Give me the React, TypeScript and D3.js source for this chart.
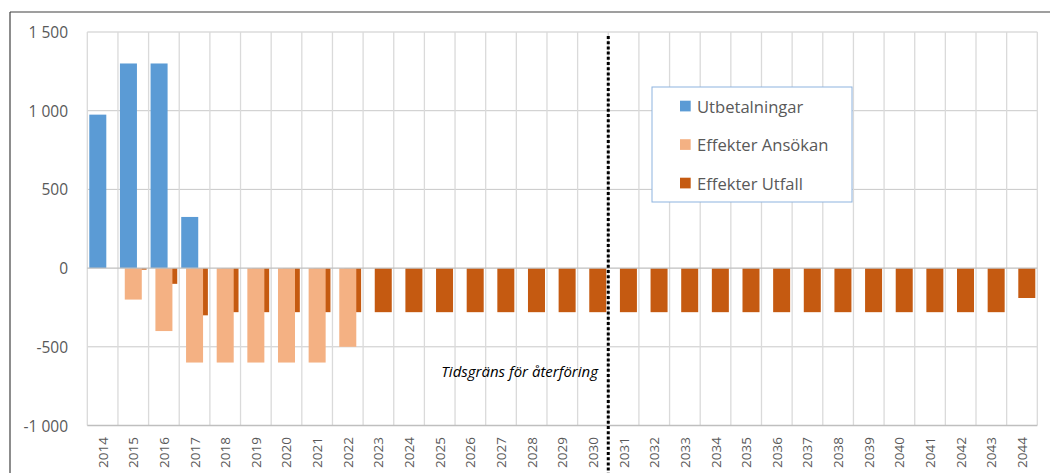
import React from 'react'
import * as d3 from 'd3'

const years = ['2014', '2015', '2016', '2017', '2018', '2019', '2020', '2021', '2022', '2023',
  '2024', '2025', '2026', '2027', '2028', '2029', '2030', '2031', '2032', '2033', '2034',
  '2035', '2036', '2037', '2038', '2039', '2040', '2041', '2042', '2043', '2044']

const utbetalningar = [975, 1300, 1300, 325, 0, 0, 0, 0, 0, 0,
  0, 0, 0, 0, 0, 0, 0, 0, 0, 0, 0,
  0, 0, 0, 0, 0, 0, 0, 0, 0, 0]

const effekterAnsokan = [0, -200, -400, -600, -600, -600, -600, -600, -500, 0,
  0, 0, 0, 0, 0, 0, 0, 0, 0, 0, 0,
  0, 0, 0, 0, 0, 0, 0, 0, 0, 0]

const effekterUtfall = [0, -10, -100, -300, -280, -280, -280, -280, -280, -280,
  -280, -280, -280, -280, -280, -280, -280, -280, -280, -280, -280,
  -280, -280, -280, -280, -280, -280, -280, -280, -280, -190]

const seriesNames = ['Utbetalningar', 'Effekter Ansökan', 'Effekter Utfall']
const seriesColors = ['#5B9BD5', '#F4B183', '#C55A11']

const yTicks = [-1000, -500, 0, 500, 1000, 1500]
const boundaryYear = '2031'
const annotation = 'Tidsgräns för återföring'

const W = 1050
const H = 473
const font = '"Open Sans", "Noto Sans", sans-serif'

export default function App() {
  const left = 87.3, right = 1037.3, top = 32, bottom = 425.5

  const x = d3.scaleBand().domain(years).range([left, right]).padding(0)
  const y = d3.scaleLinear().domain([-1000, 1500]).range([bottom, top])
  const bw = x.bandwidth()
  const barW = bw * 0.555
  // overlapping clustered bars, each series shifted a bit to the right
  const sub = d3.scalePoint().domain(seriesNames).range([bw * 0.065, bw * 0.38])

  const fmt = (v: number) => d3.format(',')(v).replace(/,/g, ' ').replace('−', '-')

  const series = [utbetalningar, effekterAnsokan, effekterUtfall]
  const drawOrder = [2, 1, 0]

  const xLine = x(boundaryYear) as number

  return (
    <svg width={W} height={H} style={{ position: 'absolute', left: 0, top: 0, background: '#fff' }}>
      <rect x={0} y={0} width={W} height={H} fill="#fff" />
      {/* frame */}
      <line x1={10} x2={W} y1={12} y2={12} stroke="#404040" strokeWidth={1.2} />
      <line x1={10} x2={10} y1={12} y2={H} stroke="#404040" strokeWidth={1.2} />

      {/* gridlines */}
      {yTicks.filter(t => t !== 0 && t !== -1000).map(t => (
        <line key={'h' + t} x1={left} x2={right} y1={y(t)} y2={y(t)} stroke="#C9C9C9" strokeWidth={1} />
      ))}
      {years.map(yr => (
        <line key={'v' + yr} x1={x(yr)} x2={x(yr)} y1={top} y2={bottom} stroke="#DADADA" strokeWidth={1.3} />
      ))}
      <line x1={right} x2={right} y1={top} y2={bottom} stroke="#DADADA" strokeWidth={1.3} />

      {/* bars */}
      {drawOrder.map(si => (
        <g key={'s' + si} fill={seriesColors[si]}>
          {series[si].map((v, i) => v === 0 ? null : (
            <rect key={i}
              x={(x(years[i]) as number) + (sub(seriesNames[si]) as number)}
              y={Math.min(y(v), y(0))}
              width={barW}
              height={Math.abs(y(v) - y(0))} />
          ))}
        </g>
      ))}

      {/* axis lines */}
      <line x1={left} x2={right} y1={y(0)} y2={y(0)} stroke="#BFBFBF" strokeWidth={1.2} />
      <line x1={left} x2={right} y1={bottom} y2={bottom} stroke="#BFBFBF" strokeWidth={1.6} />

      {/* y labels */}
      {yTicks.map(t => (
        <text key={'yl' + t} x={68} y={y(t)} textAnchor="end" dominantBaseline="central"
          fontFamily={font} fontSize={15.5} fill="#595959">{fmt(t)}</text>
      ))}

      {/* x labels */}
      {years.map(yr => (
        <text key={'xl' + yr} transform={`translate(${(x(yr) as number) + bw / 2},437) rotate(-90)`}
          textAnchor="end" dominantBaseline="central" fontFamily={font} fontSize={13.5} fill="#595959">{yr}</text>
      ))}

      {/* time limit line */}
      <line x1={xLine} x2={xLine} y1={36} y2={H} stroke="#000" strokeWidth={3} strokeDasharray="3 2.2" />
      <text x={598} y={377} textAnchor="end" fontFamily={font} fontStyle="italic" fontSize={15} fill="#000">{annotation}</text>

      {/* legend */}
      <rect x={652} y={87} width={200} height={115} fill="#fff" stroke="#8DB3DF" strokeWidth={1} />
      {seriesNames.map((n, i) => {
        const cy = [106, 144.5, 183][i]
        return (
          <g key={'lg' + i}>
            <rect x={680} y={cy - 5.3} width={10.7} height={10.7} fill={seriesColors[i]} />
            <text x={697} y={cy} dominantBaseline="central" fontFamily={font} fontSize={16.6} fill="#595959">{n}</text>
          </g>
        )
      })}
    </svg>
  )
}
